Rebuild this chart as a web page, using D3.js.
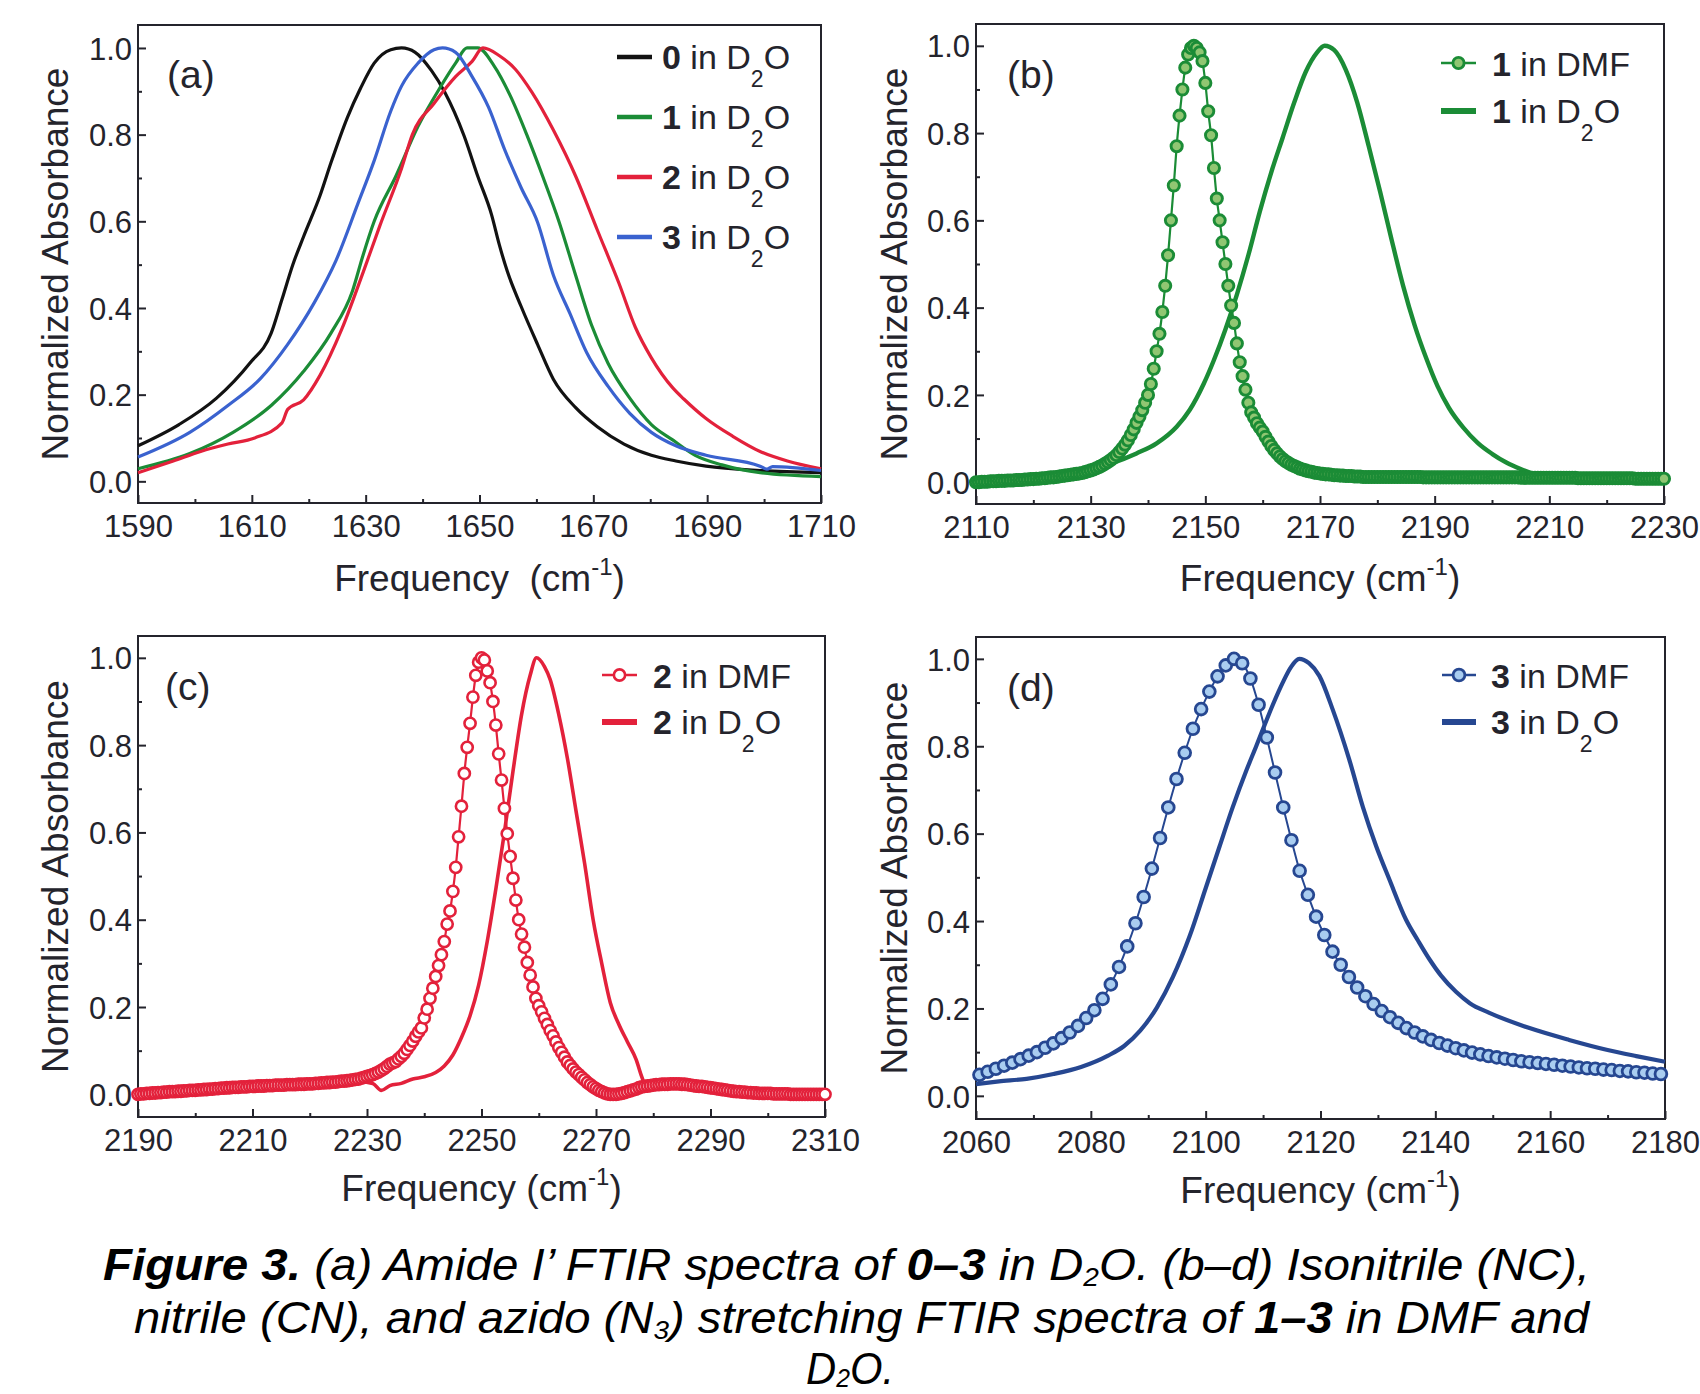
<!DOCTYPE html>
<html>
<head>
<meta charset="utf-8">
<script src="https://cdn.jsdelivr.net/npm/d3@7"></script>
<style>
  html, body { margin: 0; padding: 0; background: #fff; }
  svg text { font-family: "Liberation Sans", Arial, Helvetica, sans-serif; }
</style>
</head>
<body>
<svg id="fig" width="1700" height="1394"></svg>
<script>
// ---------- tick values ----------
const yMajorTicks = [0, 0.2, 0.4, 0.6, 0.8, 1.0];
const yMinorTicks = [0.1, 0.3, 0.5, 0.7, 0.9];
const amideTicks = [1590, 1610, 1630, 1650, 1670, 1690, 1710];
const amideMinor = [1600, 1620, 1640, 1660, 1680, 1700];
const ncTicks = [2110, 2130, 2150, 2170, 2190, 2210, 2230];
const ncMinor = [2120, 2140, 2160, 2180, 2200, 2220];
const cnTicks = [2190, 2210, 2230, 2250, 2270, 2290, 2310];
const cnMinor = [2200, 2220, 2240, 2260, 2280, 2300];
const n3Ticks = [2060, 2080, 2100, 2120, 2140, 2160, 2180];
const n3Minor = [2070, 2090, 2110, 2130, 2150, 2170];

// ---------- (a) amide I' band, [frequency, normalized absorbance] ----------
const amide0 = [[1590,0.082],[1597.2,0.131],[1603.8,0.192],[1609.6,0.272],[1613.4,0.342],[1615.3,0.42],[1617.2,0.50],[1619.1,0.565],[1622,0.66],[1623.9,0.735],[1626.8,0.84],[1629.1,0.907],[1631.5,0.965],[1634.4,0.996],[1636.3,1.0],[1638.7,0.99],[1641.6,0.947],[1643.9,0.898],[1647.3,0.797],[1649.7,0.704],[1652.1,0.616],[1653.5,0.545],[1654.9,0.484],[1657.3,0.404],[1660.2,0.316],[1663,0.235],[1666.9,0.17],[1670.7,0.126],[1675.4,0.086],[1680.2,0.06],[1684.5,0.047],[1689.8,0.035],[1699.3,0.025],[1710,0.02]];
const amide1 = [[1590,0.029],[1599.1,0.064],[1606.7,0.113],[1613.4,0.175],[1619.1,0.254],[1623.9,0.342],[1627.7,0.44],[1629.5,0.52],[1631.5,0.60],[1635.3,0.704],[1639.2,0.819],[1643,0.907],[1645.8,0.965],[1647.8,1.0],[1649.7,1.0],[1652.5,0.96],[1655.4,0.89],[1658.3,0.80],[1661.1,0.704],[1664,0.598],[1666.9,0.475],[1669.7,0.36],[1672.6,0.272],[1676.4,0.192],[1680.2,0.131],[1684,0.095],[1687.9,0.06],[1692.6,0.038],[1699.3,0.02],[1710,0.011]];
const amide2 = [[1590,0.02],[1596.2,0.047],[1601,0.069],[1605.8,0.086],[1610.5,0.1],[1615.3,0.135],[1616.3,0.166],[1619.1,0.188],[1622,0.245],[1625.8,0.351],[1629.6,0.484],[1632.5,0.59],[1636.3,0.722],[1638.2,0.80],[1642,0.872],[1645.8,0.934],[1648.7,0.969],[1650.6,1.0],[1653.5,0.982],[1656.3,0.951],[1659.2,0.898],[1663,0.81],[1666.9,0.704],[1670.7,0.58],[1674.5,0.457],[1677.4,0.355],[1680.2,0.285],[1684,0.215],[1685.9,0.19],[1689.8,0.145],[1694.5,0.104],[1699.3,0.069],[1704.1,0.047],[1710,0.029]];
const amide3 = [[1590,0.056],[1599.1,0.113],[1605.8,0.175],[1611.5,0.237],[1616.3,0.316],[1621,0.413],[1624.8,0.51],[1628.7,0.643],[1631.5,0.74],[1634.4,0.854],[1636.3,0.912],[1639.2,0.965],[1642,0.996],[1643.5,1.0],[1645.8,0.99],[1648.7,0.934],[1651.6,0.863],[1654.4,0.766],[1657.3,0.678],[1660.2,0.598],[1663,0.475],[1665.9,0.387],[1668.8,0.298],[1672.6,0.219],[1676.4,0.157],[1680.2,0.113],[1684.5,0.082],[1689.8,0.06],[1699.3,0.035],[1700.5,0.028],[1701.5,0.034],[1710,0.025]];

// ---------- (b) isonitrile band of 1 ----------
const nc1D2O = [[2110,0.0],[2115,0.003],[2120,0.008],[2125,0.016],[2130,0.03],[2134,0.045],[2138,0.066],[2141.5,0.089],[2145,0.127],[2147.3,0.166],[2149.7,0.225],[2151.5,0.28],[2153.5,0.35],[2155.5,0.43],[2157.5,0.52],[2159.5,0.62],[2161.5,0.71],[2163.5,0.79],[2165.5,0.87],[2167.5,0.94],[2169.5,0.985],[2170.8,1.0],[2172.5,0.99],[2174.5,0.945],[2176.5,0.87],[2178.5,0.77],[2180.5,0.665],[2182.5,0.555],[2184.5,0.45],[2186.5,0.36],[2188.5,0.285],[2190.5,0.22],[2192.5,0.17],[2195,0.125],[2197.5,0.09],[2200,0.065],[2202.5,0.045],[2205,0.03],[2207.5,0.018],[2210,0.01],[2215,0.005],[2220,0.003],[2230,0.002]];
// DMF spectrum sampled every 0.5 cm-1 from 2110 cm-1
const nc1DMFStart = 2110, nc1DMFStep = 0.5;
const nc1DMF = [
  0.000,0.000,0.001,0.001,0.001,0.002,0.002,0.002,0.003,0.003,0.003,0.004,0.004,0.004,0.005,0.005,0.005,0.006,0.006,0.007,
  0.007,0.008,0.008,0.009,0.009,0.010,0.011,0.011,0.012,0.013,0.014,0.015,0.016,0.017,0.018,0.019,0.020,0.021,0.023,0.025,
  0.027,0.029,0.032,0.035,0.038,0.042,0.046,0.051,0.056,0.062,
  0.069,0.077,0.086,0.096,0.108,0.121,0.136,0.150,0.165,0.182,
  0.200,0.225,0.260,0.300,0.340,0.390,0.450,0.520,0.600,0.680,
  0.770,0.840,0.900,0.950,0.980,0.995,1.000,0.995,0.985,0.965,
  0.915,0.850,0.795,0.720,0.650,0.600,0.550,0.500,0.450,0.405,
  0.365,0.318,0.275,0.243,0.212,0.182,0.160,0.148,0.135,0.125,
  0.116,0.104,0.093,0.083,0.074,0.066,0.059,0.053,0.048,0.044,
  0.040,0.037,0.034,0.031,0.029,0.027,0.025,0.024,0.022,0.021,
  0.020,0.019,0.018,0.018,0.017,0.016,0.016,0.015,0.015,0.014,0.014,0.014,0.013,0.013,0.013,0.012,0.012,0.012,0.012,0.012,
  0.012,0.012,0.012,0.012,0.012,0.012,0.012,0.012,0.012,0.012,0.012,0.012,0.012,0.012,0.012,0.012,0.011,0.011,0.011,0.011,
  0.011,0.011,0.011,0.011,0.011,0.011,0.011,0.011,0.011,0.011,0.011,0.011,0.011,0.011,0.011,0.011,0.011,0.011,0.011,0.011,
  0.011,0.011,0.011,0.011,0.011,0.011,0.011,0.011,0.011,0.011,0.010,0.010,0.010,0.010,0.010,0.010,0.010,0.010,0.010,0.010,
  0.010,0.010,0.010,0.010,0.010,0.010,0.010,0.010,0.010,0.010,0.009,0.009,0.009,0.009,0.009,0.009,0.009,0.009,0.009,0.009,
  0.009,0.009,0.009,0.009,0.009,0.009,0.009,0.009,0.009,0.009,0.008,0.008,0.008,0.008,0.008,0.008,0.008,0.008,0.008,0.008,0.008
];

// ---------- (c) nitrile band of 2 ----------
const cn2D2O = [[2190,0.0],[2200,0.01],[2210,0.02],[2220,0.03],[2228,0.03],[2231,0.025],[2232.5,0.009],[2234,0.02],[2236,0.025],[2238,0.035],[2240,0.04],[2242,0.05],[2243.5,0.065],[2245,0.09],[2246.5,0.13],[2248,0.18],[2249.5,0.25],[2251,0.35],[2252.5,0.47],[2254,0.6],[2255.5,0.74],[2257,0.87],[2258.5,0.96],[2259.6,1.0],[2261,0.98],[2262,0.95],[2263.5,0.87],[2265,0.77],[2266.5,0.65],[2268,0.53],[2269.5,0.40],[2271,0.30],[2272.5,0.21],[2274,0.16],[2275.5,0.12],[2277,0.08],[2278,0.04],[2279,0.01],[2280,0.02],[2285,0.025],[2290,0.02],[2295,0.01],[2300,0.005],[2310,0.0]];
// DMF spectrum sampled every 0.5 cm-1 from 2190 cm-1
const cn2DMFStart = 2190, cn2DMFStep = 0.5;
const cn2DMF = [
  0.000,0.001,0.001,0.002,0.002,0.003,0.003,0.004,0.004,0.005,0.005,0.006,0.006,0.006,0.007,0.007,0.008,0.008,0.009,0.009,
  0.009,0.010,0.010,0.011,0.011,0.012,0.012,0.013,0.013,0.014,0.014,0.015,0.015,0.016,0.016,0.016,0.017,0.017,0.017,0.018,
  0.018,0.018,0.019,0.019,0.019,0.020,0.020,0.020,0.021,0.021,0.021,0.021,0.022,0.022,0.022,0.022,0.023,0.023,0.023,0.024,
  0.024,0.024,0.025,0.025,0.026,0.026,0.027,0.027,0.028,0.028,0.029,0.030,0.030,0.031,0.032,0.033,0.034,0.035,0.037,0.039,
  0.041,0.043,0.045,0.048,0.051,0.055,0.059,0.064,0.069,0.072,
  0.075,0.081,0.087,0.094,0.103,0.112,0.122,0.133,0.143,0.152,
  0.175,0.195,0.220,0.243,0.270,0.295,0.320,0.350,0.390,0.420,
  0.465,0.520,0.590,0.660,0.735,0.795,0.850,0.910,0.960,0.990,
  1.000,0.995,0.970,0.943,0.900,0.846,0.780,0.720,0.655,0.597,
  0.545,0.495,0.445,0.400,0.367,0.337,0.302,0.273,0.246,0.220,
  0.203,0.189,0.174,0.160,0.146,0.134,0.120,0.107,0.096,0.085,
  0.074,0.066,0.058,0.051,0.045,0.039,0.033,0.027,0.022,0.017,
  0.013,0.009,0.006,0.003,0.001,0.000,0.000,0.000,0.001,0.002,
  0.004,0.006,0.008,0.010,0.012,0.015,0.017,0.018,0.019,0.020,
  0.021,0.022,0.022,0.023,0.023,0.023,0.024,0.024,0.024,0.024,
  0.023,0.023,0.022,0.021,0.020,0.019,0.018,0.018,0.017,0.016,
  0.015,0.014,0.013,0.012,0.011,0.010,0.009,0.008,0.007,0.006,
  0.006,0.005,0.005,0.004,0.004,0.003,0.003,0.002,0.002,0.002,
  0.002,0.002,0.001,0.001,0.001,0.001,0.001,0.001,0.000,0.000,0.000,0.000,0.000,0.000,0.000,0.000,0.000,0.000,0.000,0.000,0.000
];

// ---------- (d) azido band of 3 ----------
const n3D2O = [[2060,0.027],[2064,0.033],[2068.8,0.039],[2073.5,0.05],[2078.3,0.066],[2083,0.092],[2085.8,0.114],[2088.6,0.149],[2091.5,0.202],[2094.3,0.272],[2097.2,0.365],[2100,0.475],[2102.4,0.57],[2104.7,0.66],[2107.1,0.745],[2108.8,0.80],[2110.3,0.85],[2111.7,0.895],[2113.4,0.945],[2114.8,0.98],[2116.3,1.0],[2118,0.99],[2119.8,0.961],[2122.1,0.885],[2125,0.77],[2127.4,0.66],[2129.7,0.571],[2132,0.495],[2134.9,0.403],[2137,0.355],[2139,0.312],[2141,0.275],[2143.6,0.238],[2146,0.212],[2149.4,0.19],[2156.4,0.155],[2163.3,0.128],[2170,0.105],[2175,0.091],[2180,0.078]];
// DMF spectrum sampled every 1.43 cm-1 from 2060.6 cm-1
const n3DMFStart = 2060.6, n3DMFStep = 1.43;
const n3DMF = [
  0.048,0.055,0.062,0.069,0.076,0.084,0.092,0.100,0.110,0.120,
  0.132,0.145,0.160,0.178,0.196,0.222,0.255,0.295,0.342,0.395,
  0.455,0.520,0.590,0.660,0.725,0.785,0.840,0.885,0.925,0.960,
  0.985,1.000,0.990,0.955,0.895,0.820,0.740,0.660,0.585,0.515,
  0.460,0.410,0.368,0.330,0.300,0.272,0.248,0.228,0.210,0.194,
  0.180,0.167,0.155,0.145,0.136,0.128,0.121,0.115,0.109,0.104,
  0.099,0.095,0.091,0.088,0.085,0.082,0.079,0.077,0.075,0.073,
  0.071,0.069,0.067,0.065,0.063,0.062,0.060,0.059,0.057,0.056,
  0.054,0.053,0.051,0.050
];

// ---------- colours ----------
const INK = "#24242c";
const BLACK = "#121212", GREEN = "#1b8c36", RED = "#e3213b", BLUE = "#3a62cf", NAVY = "#264791";
const GREEN_FILL = "#90c672", NAVY_FILL = "#a9cdf0";

const svg = d3.select("#fig");

// Text with bold / subscript / superscript runs
function addRich(text, parts) {
  let pending = 0;
  parts.forEach(p => {
    const ts = text.append("tspan").text(p.t);
    let dy = pending;
    if (p.b) ts.attr("font-weight", "bold");
    if (p.size) ts.attr("font-size", p.size);
    if (p.shift) { dy += p.shift; pending = -p.shift; } else { pending = 0; }
    if (dy) ts.attr("dy", dy);
  });
  return text;
}

const gridSeries = (start, step, vals) => vals.map((v, i) => [start + i * step, v]);

function drawPanel(cfg) {
  const g = svg.append("g");
  const bottom = cfg.top + cfg.height, right = cfg.left + cfg.width;
  const x = d3.scaleLinear().domain(cfg.xDomain).range([cfg.left, right]);
  const y = d3.scaleLinear().domain(cfg.yDomain).range([bottom, cfg.top]);

  const styleAxis = sel => {
    sel.select(".domain").remove();
    sel.selectAll(".tick line").attr("stroke", INK).attr("stroke-width", 2);
    sel.attr("font-size", 31).attr("font-family", null).attr("fill", INK);
    sel.selectAll(".tick text").attr("fill", INK);
  };

  // frame
  g.append("rect").attr("x", cfg.left).attr("y", cfg.top)
    .attr("width", cfg.width).attr("height", cfg.height)
    .attr("fill", "none").attr("stroke", INK).attr("stroke-width", 2);

  // x axis (ticks inside the frame)
  g.append("g").attr("transform", `translate(0,${bottom})`)
    .call(d3.axisBottom(x).tickValues(cfg.xMinor).tickSize(-4).tickFormat(""))
    .call(styleAxis);
  g.append("g").attr("transform", `translate(0,${bottom})`)
    .call(d3.axisBottom(x).tickValues(cfg.xTicks).tickSize(-8).tickPadding(0).tickFormat(d3.format("d")))
    .call(styleAxis)
    .call(s => s.selectAll(".tick text").attr("y", 34).attr("dy", null));

  // y axis
  g.append("g").attr("transform", `translate(${cfg.left},0)`)
    .call(d3.axisLeft(y).tickValues(yMinorTicks).tickSize(-4).tickFormat(""))
    .call(styleAxis);
  g.append("g").attr("transform", `translate(${cfg.left},0)`)
    .call(d3.axisLeft(y).tickValues(yMajorTicks).tickSize(-8).tickPadding(6).tickFormat(d3.format(".1f")))
    .call(styleAxis)
    .call(s => s.selectAll(".tick text").attr("dy", "0.36em"));

  // axis titles
  g.append("text")
    .attr("transform", `translate(${cfg.yTitleX},${cfg.top + cfg.height / 2}) rotate(-90)`)
    .attr("text-anchor", "middle").attr("font-size", 37).attr("fill", INK)
    .text("Normalized Absorbance");
  const xt = g.append("text")
    .attr("x", (cfg.left + right) / 2).attr("y", cfg.xTitleY)
    .attr("text-anchor", "middle").attr("font-size", 37).attr("fill", INK);
  addRich(xt, [{ t: "Frequency" }, { t: cfg.xTitleGap + "(cm" }, { t: "-1", size: 24, shift: -16 }, { t: ")" }]);
  xt.style("white-space", "pre");

  // panel tag
  g.append("text").attr("x", cfg.tagX).attr("y", cfg.tagY)
    .attr("font-size", 39).attr("fill", INK).text(cfg.tag);

  const line = d3.line().x(d => x(d[0])).y(d => y(d[1])).curve(d3.curveMonotoneX);

  // spectra
  cfg.series.forEach(s => {
    g.append("path").datum(s.data).attr("d", line)
      .attr("fill", "none").attr("stroke", s.color)
      .attr("stroke-width", s.width).attr("stroke-linejoin", "round");
    if (s.marker) {
      g.append("g").selectAll("circle").data(s.data).join("circle")
        .attr("cx", d => x(d[0])).attr("cy", d => y(d[1])).attr("r", s.marker.r)
        .attr("fill", s.marker.fill).attr("stroke", s.color).attr("stroke-width", s.marker.sw);
    }
  });

  // legend
  cfg.legend.forEach(item => {
    const lg = g.append("g");
    lg.append("line").attr("x1", item.x1).attr("x2", item.x2)
      .attr("y1", item.ly).attr("y2", item.ly)
      .attr("stroke", item.color).attr("stroke-width", item.width);
    if (item.marker) {
      lg.append("circle").attr("cx", (item.x1 + item.x2) / 2).attr("cy", item.ly)
        .attr("r", item.marker.r).attr("fill", item.marker.fill)
        .attr("stroke", item.color).attr("stroke-width", item.marker.sw);
    }
    const t = lg.append("text").attr("x", item.tx).attr("y", item.ty)
      .attr("font-size", 34).attr("fill", INK);
    addRich(t, item.parts);
  });
}

const subD2O = n => [{ t: n, b: true }, { t: " in D" }, { t: "2", size: 23, shift: 18 }, { t: "O" }];
const inDMF = n => [{ t: n, b: true }, { t: " in DMF" }];

const dmfGreen = { r: 5.6, fill: GREEN_FILL, sw: 2.9 };
const dmfRed = { r: 5.6, fill: "#ffffff", sw: 2.6 };
const dmfNavy = { r: 5.9, fill: NAVY_FILL, sw: 2.8 };

// (a)
drawPanel({
  left: 138, top: 25, width: 683, height: 478,
  xDomain: [1590, 1710], yDomain: [-0.05, 1.053],
  xTicks: amideTicks, xMinor: amideMinor,
  yTitleX: 68, xTitleY: 591, xTitleGap: "  ",
  tag: "(a)", tagX: 167, tagY: 88,
  series: [
    { data: amide0, color: BLACK, width: 3.2 },
    { data: amide1, color: GREEN, width: 3.2 },
    { data: amide2, color: RED, width: 3.2 },
    { data: amide3, color: BLUE, width: 3.2 }
  ],
  legend: [
    { x1: 617, x2: 652, ly: 57, width: 4.5, color: BLACK, tx: 662, ty: 69, parts: subD2O("0") },
    { x1: 617, x2: 652, ly: 117, width: 4.5, color: GREEN, tx: 662, ty: 129, parts: subD2O("1") },
    { x1: 617, x2: 652, ly: 177, width: 4.5, color: RED, tx: 662, ty: 189, parts: subD2O("2") },
    { x1: 617, x2: 652, ly: 237, width: 4.5, color: BLUE, tx: 662, ty: 249, parts: subD2O("3") }
  ]
});

// (b)
drawPanel({
  left: 976, top: 24, width: 688, height: 480,
  xDomain: [2110, 2230], yDomain: [-0.05, 1.05],
  xTicks: ncTicks, xMinor: ncMinor,
  yTitleX: 907, xTitleY: 591, xTitleGap: " ",
  tag: "(b)", tagX: 1007, tagY: 88,
  series: [
    { data: nc1D2O, color: GREEN, width: 4.4 },
    { data: gridSeries(nc1DMFStart, nc1DMFStep, nc1DMF), color: GREEN, width: 2.2, marker: dmfGreen }
  ],
  legend: [
    { x1: 1441, x2: 1476, ly: 63, width: 2.5, color: GREEN, marker: dmfGreen, tx: 1492, ty: 76, parts: inDMF("1") },
    { x1: 1441, x2: 1476, ly: 111, width: 6, color: GREEN, tx: 1492, ty: 123, parts: subD2O("1") }
  ]
});

// (c)
drawPanel({
  left: 138, top: 636, width: 687, height: 481,
  xDomain: [2190, 2310], yDomain: [-0.052, 1.05],
  xTicks: cnTicks, xMinor: cnMinor,
  yTitleX: 68, xTitleY: 1201, xTitleGap: " ",
  tag: "(c)", tagX: 165, tagY: 700,
  series: [
    { data: cn2D2O, color: RED, width: 3.6 },
    { data: gridSeries(cn2DMFStart, cn2DMFStep, cn2DMF), color: RED, width: 2.2, marker: dmfRed }
  ],
  legend: [
    { x1: 602, x2: 637, ly: 675, width: 2.5, color: RED, marker: dmfRed, tx: 653, ty: 688, parts: inDMF("2") },
    { x1: 602, x2: 637, ly: 722, width: 6, color: RED, tx: 653, ty: 734, parts: subD2O("2") }
  ]
});

// (d)
drawPanel({
  left: 976, top: 637, width: 689, height: 482,
  xDomain: [2060, 2180], yDomain: [-0.053, 1.05],
  xTicks: n3Ticks, xMinor: n3Minor,
  yTitleX: 907, xTitleY: 1203, xTitleGap: " ",
  tag: "(d)", tagX: 1007, tagY: 701,
  series: [
    { data: n3D2O, color: NAVY, width: 4.2 },
    { data: gridSeries(n3DMFStart, n3DMFStep, n3DMF), color: NAVY, width: 2, marker: dmfNavy }
  ],
  legend: [
    { x1: 1442, x2: 1476, ly: 675, width: 2.5, color: NAVY, marker: dmfNavy, tx: 1491, ty: 688, parts: inDMF("3") },
    { x1: 1442, x2: 1476, ly: 722, width: 6, color: NAVY, tx: 1491, ty: 734, parts: subD2O("3") }
  ]
});

// ---------- figure caption ----------
const captionLines = [
  { x: 103, y: 1280, len: 1487, parts: [
    { t: "Figure 3.", b: true }, { t: " (a) Amide I\u2019 FTIR spectra of " }, { t: "0\u20133", b: true },
    { t: " in D" }, { t: "2", size: 26, shift: 6 }, { t: "O. (b\u2013d) Isonitrile (NC)," }] },
  { x: 134, y: 1333, len: 1455, parts: [
    { t: "nitrile (CN), and azido (N" }, { t: "3", size: 26, shift: 6 }, { t: ") stretching FTIR spectra of " },
    { t: "1\u20133", b: true }, { t: " in DMF and" }] },
  { x: 806, y: 1384, len: 88, parts: [{ t: "D" }, { t: "2", size: 26, shift: 3 }, { t: "O." }] }
];
captionLines.forEach(c => {
  const t = svg.append("text").attr("x", c.x).attr("y", c.y)
    .attr("font-size", 44).attr("font-style", "italic").attr("fill", "#000")
    .attr("textLength", c.len).attr("lengthAdjust", "spacingAndGlyphs");
  addRich(t, c.parts);
});
</script>
</body>
</html>
